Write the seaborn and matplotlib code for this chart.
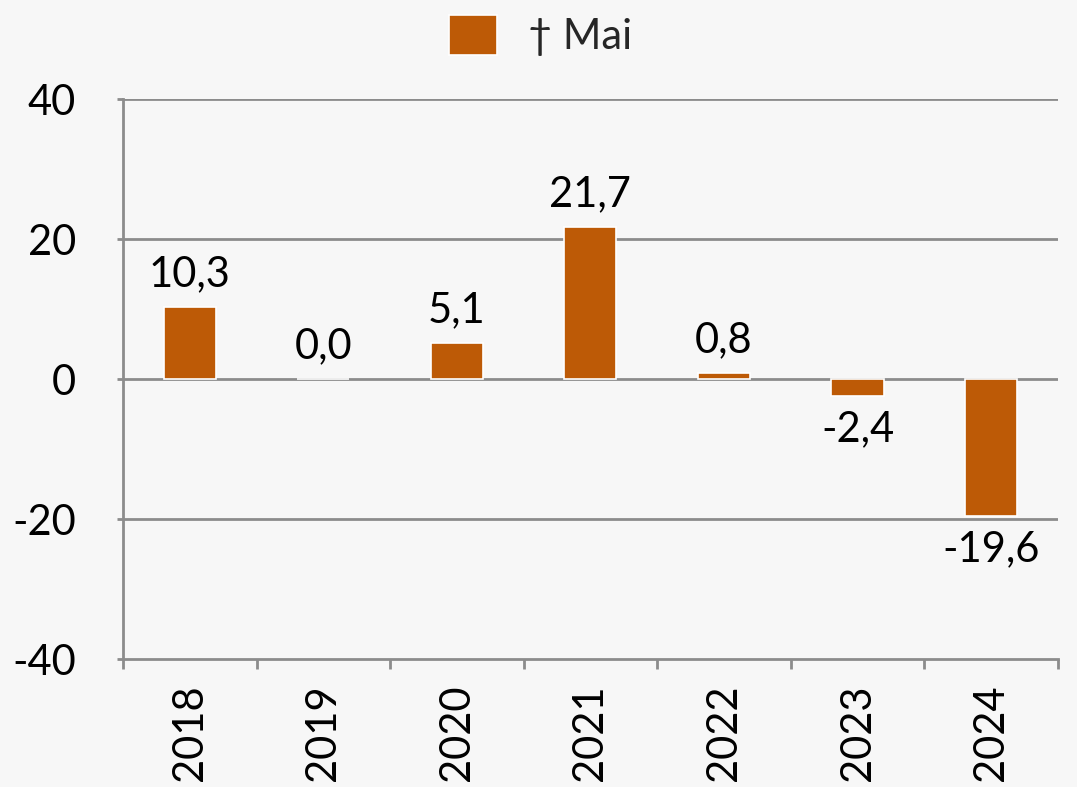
import matplotlib
matplotlib.use("Agg")
import matplotlib.pyplot as plt
import matplotlib.patches as mpatches
import seaborn as sns
import pandas as pd
import numpy as np

years = ["2018", "2019", "2020", "2021", "2022", "2023", "2024"]
values = [10.3, 0.0, 5.1, 21.7, 0.8, -2.4, -19.6]
series_name = "† Mai"
y_ticks = [-40, -20, 0, 20, 40]

bar_color = "#BD5A06"
grid_color = "#8C8C8C"
bg = "#F7F7F7"
FS = 30

sns.set_theme(style="white")
plt.rcParams['font.family'] = ['Lato', 'DejaVu Sans']

fig = plt.figure(figsize=(10.77, 7.87), dpi=100, facecolor=bg)
ax = fig.add_axes([0.1142, 0.1626, 0.8680, 0.7116])
ax.set_facecolor(bg)

df = pd.DataFrame({"year": years, "value": values})
sns.barplot(data=df, x="year", y="value", color=bar_color, saturation=1,
            width=0.39, edgecolor="white", linewidth=1.2, ax=ax, zorder=3)

ax.set_ylim(-40, 40)
ax.set_xlim(-0.5, len(years) - 0.5)
ax.set_yticks(y_ticks)
ax.set_yticklabels([str(t) for t in y_ticks], fontsize=FS, color="black")
for t in y_ticks[1:]:
    ax.axhline(t, color=grid_color, lw=2, zorder=1)

ax.set_xlabel("")
ax.set_ylabel("")
ax.set_xticks(range(len(years)))
ax.set_xticklabels(years, rotation=90, fontsize=FS, color="black")
ax.tick_params(axis="x", length=0, pad=18)
ax.set_xticks(np.arange(-0.5, len(years), 1.0), minor=True)
ax.tick_params(axis="x", which="minor", length=7, width=2, color=grid_color, direction="out", bottom=True)
ax.tick_params(axis="y", length=4, width=2, color=grid_color, direction="out", left=True, pad=30)

for s in ["top", "right"]:
    ax.spines[s].set_visible(False)
for s in ["left", "bottom"]:
    ax.spines[s].set_color(grid_color)
    ax.spines[s].set_linewidth(2)

labels = [f"{v:.1f}".replace(".", ",") for v in values]
ax.bar_label(ax.containers[0], labels=labels, padding=10, fontsize=FS, color="black")

handle = mpatches.Patch(facecolor=bar_color, edgecolor="white", linewidth=1.2, label=series_name)
fig.legend(handles=[handle], loc="center", bbox_to_anchor=(0.502, 0.955), frameon=False,
           fontsize=FS, handlelength=1.15, handleheight=1.1, handletextpad=0.75)

fig.savefig("out.png", dpi=100, facecolor=bg)
